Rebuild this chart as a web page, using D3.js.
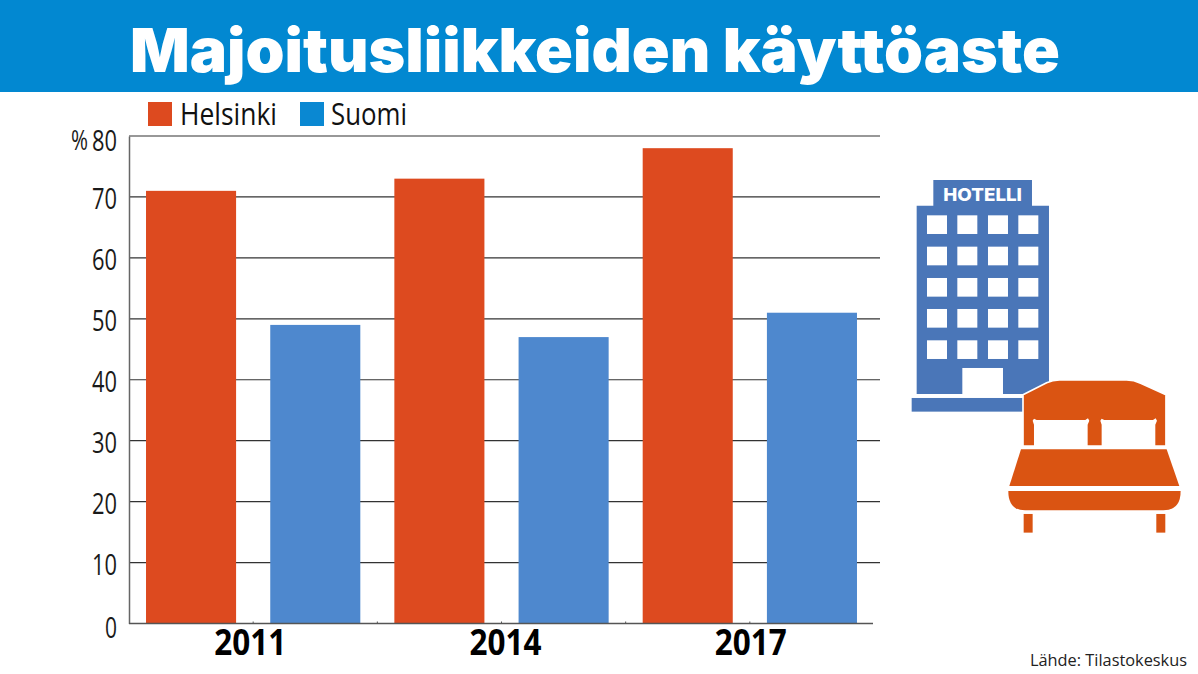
<!DOCTYPE html>
<html><head><meta charset="utf-8">
<script src="https://cdn.jsdelivr.net/npm/d3@7/dist/d3.min.js"></script>
<style>html,body{margin:0;padding:0;background:#fff}svg{display:block}</style>
</head><body><svg id="c" width="1198" height="674"></svg>
<script>
const years = ["2011","2014","2017"];
const seriesNames = ["Helsinki","Suomi"];
const helsinki = [71,73,78];
const suomi = [49,47,51];
const yTicks = [0,10,20,30,40,50,60,70,80];
const barColors = ["#dd4a1f","#4e88ce"];
const legendColors = ["#dd4a1f","#0a88d2"];
const values = [helsinki, suomi];
const narrow = "'Open Sans',sans-serif";

const svg = d3.select("#c");
svg.append("rect").attr("width",1198).attr("height",92).attr("fill","#0288d1");
svg.append("text").text("Majoitusliikkeiden käyttöaste")
  .attr("x",595).attr("y",71.5).attr("text-anchor","middle")
  .attr("font-family","Inter,sans-serif").attr("font-weight",900).attr("font-size",61)
  .attr("fill","#fff")
  .attr("textLength",930).attr("lengthAdjust","spacingAndGlyphs");

const x0 = d3.scaleBand().domain(years).range([129,874]);
const x1 = d3.scaleBand().domain(seriesNames).range([0,x0.bandwidth()]).paddingInner(0.275).paddingOuter(0.137);
const y = d3.scaleLinear().domain([0,80]).range([623.5,136]);

// grid
svg.append("g").selectAll("line").data(yTicks.filter(d=>d>0)).join("line")
  .attr("x1",129).attr("x2",880).attr("y1",d=>y(d)).attr("y2",d=>y(d))
  .attr("stroke","#333").attr("stroke-width",1.2);

// bars
const g = svg.append("g");
years.forEach((yr,i)=>seriesNames.forEach((s,j)=>{
  g.append("rect").attr("x",x0(yr)+x1(s)).attr("width",x1.bandwidth())
   .attr("y",y(values[j][i])).attr("height",y(0)-y(values[j][i])).attr("fill",barColors[j]);
}));

// axes
const yAxis = svg.append("g").attr("transform","translate(129,0)")
  .call(d3.axisLeft(y).tickValues(yTicks).tickSize(0).tickPadding(12));
yAxis.select(".domain").attr("stroke","#666").attr("stroke-width",1.5);
yAxis.selectAll("text").attr("font-family",narrow).attr("font-size",30).attr("fill","#1a1a1a")
  .attr("textLength",d=>d===0?12:25).attr("lengthAdjust","spacingAndGlyphs")
  .attr("dy",d=>(d===80?0.47:d===0?0.45:0.4)+"em");
svg.append("text").text("%").attr("x",71).attr("y",150).attr("font-family",narrow).attr("font-size",27)
  .attr("fill","#1a1a1a").attr("textLength",17).attr("lengthAdjust","spacingAndGlyphs");

const xAxis = svg.append("g").attr("transform","translate(0,623.5)")
  .call(d3.axisBottom(x0).tickSize(0).tickPadding(6));
xAxis.select(".domain").attr("stroke","#555").attr("stroke-width",1.5).attr("d","M129,0H873");
const labelDx = [-3,4,1];
xAxis.selectAll("text").attr("font-family",narrow).attr("font-weight",700).attr("font-size",36).attr("fill","#000")
  .attr("dx",(d,i)=>labelDx[i]).attr("textLength",72).attr("lengthAdjust","spacingAndGlyphs");
// small ticks on the baseline: band centres and edges
const tickXs = years.flatMap(d=>[x0(d)+x0.bandwidth()/2, x0(d)+x0.bandwidth()]).slice(0,-1);
svg.append("g").selectAll("line").data(tickXs).join("line")
  .attr("x1",d=>d).attr("x2",d=>d).attr("y1",621.5).attr("y2",623.5).attr("stroke","#555");

// legend
const legendX = [148,300], labelX=[180,331], labelW=[97,76];
seriesNames.forEach((s,j)=>{
  svg.append("rect").attr("x",legendX[j]).attr("y",102).attr("width",24).attr("height",24).attr("fill",legendColors[j]);
  svg.append("text").text(s).attr("x",labelX[j]).attr("y",125).attr("font-family",narrow).attr("font-size",31).attr("fill","#111")
    .attr("textLength",labelW[j]).attr("lengthAdjust","spacingAndGlyphs");
});

svg.append("text").text("Lähde: Tilastokeskus").attr("x",1030).attr("y",666)
  .attr("font-family","'Open Sans',sans-serif").attr("font-size",16).attr("fill","#222")
  .attr("textLength",157).attr("lengthAdjust","spacingAndGlyphs");

// hotel icon
const icon = svg.append("g").attr("transform","translate(900,170) scale(0.3333)");
const blue="#4a76b8", orange="#da5412";
icon.append("path").attr("fill",blue).attr("d","M100,30H396V107H447V672H50V107H100Z");
icon.append("rect").attr("x",35).attr("y",684).attr("width",400).attr("height",41).attr("fill",blue);
[81,172,264,355].forEach(wx=>[136,230,324,417,511].forEach(wy=>
  icon.append("rect").attr("x",wx).attr("y",wy).attr("width",60).attr("height",56).attr("fill","#fff")));
icon.append("rect").attr("x",187).attr("y",594).attr("width",122).attr("height",80).attr("fill","#fff");
icon.append("text").text("HOTELLI").attr("x",248).attr("y",93).attr("text-anchor","middle")
  .attr("font-family","Inter,sans-serif").attr("font-weight",800).attr("font-size",52).attr("fill","#fff")
  .attr("textLength",236).attr("lengthAdjust","spacingAndGlyphs");
// bed icon
icon.append("path").attr("fill",orange).attr("stroke","#fff").attr("stroke-width",5)
  .attr("d","M369,674L440,638Q458,630 478,630H680Q702,630 722,640L798,674V828H369Z");
const pillow = "M402,746L410,750H556L564,745L568,752L563,764V828H402V764L398,752Z";
icon.append("path").attr("fill","#fff").attr("d",pillow);
icon.append("path").attr("fill","#fff").attr("transform","translate(203,0)").attr("d",pillow);
icon.append("path").attr("fill",orange).attr("d","M363,838H800L838,948H328Z");
icon.append("path").attr("fill",orange).attr("d","M325,963H842Q842,1021 790,1021H375Q325,1021 325,963Z");
icon.append("rect").attr("x",371).attr("y",1032).attr("width",27).attr("height",56).attr("fill",orange);
icon.append("rect").attr("x",769).attr("y",1032).attr("width",27).attr("height",56).attr("fill",orange);
</script></body></html>
